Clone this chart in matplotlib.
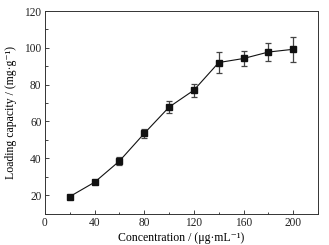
import matplotlib
matplotlib.use('Agg')
import matplotlib.pyplot as plt
from matplotlib.ticker import MultipleLocator

plt.rcParams['font.family'] = ['Liberation Serif', 'DejaVu Serif']

conc = [20, 40, 60, 80, 100, 120, 140, 160, 180, 200]
loading = [19.2, 27.0, 38.5, 53.5, 67.8, 77.0, 92.0, 94.2, 97.7, 99.2]
err = [0.8, 0.6, 2.0, 2.6, 3.2, 3.6, 5.5, 4.3, 5.0, 6.7]

fig = plt.figure(figsize=(3.29, 2.45), dpi=100)
ax = fig.add_axes([45/329, 1 - 213.5/245, 273/329, 202.5/245])

ax.errorbar(conc, loading, yerr=err, color='#111111', ecolor='#444444',
            elinewidth=0.9, capsize=2.2, capthick=0.9, lw=0.8,
            marker='s', markersize=4.2, mfc='#111111', mec='#111111')

ax.set_xlim(0, 220)
ax.set_ylim(10, 120)
ax.xaxis.set_major_locator(MultipleLocator(40))
ax.xaxis.set_minor_locator(MultipleLocator(20))
ax.yaxis.set_major_locator(MultipleLocator(20))
ax.yaxis.set_minor_locator(MultipleLocator(10))
ax.tick_params(which='both', direction='in', top=False, right=False,
               labelsize=8.3, width=0.6, colors='#222222', pad=2.5)
ax.tick_params(which='major', length=3)
ax.tick_params(which='minor', length=1.8)
for s in ax.spines.values():
    s.set_linewidth(0.7)
    s.set_color('#333333')

ax.set_xlabel('Concentration / (μg·mL\u207b\u00b9)', fontsize=8.5, labelpad=2)
ax.set_ylabel('Loading capacity / (mg·g\u207b\u00b9)', fontsize=8.5, labelpad=5)

fig.savefig('out.png', dpi=100)
